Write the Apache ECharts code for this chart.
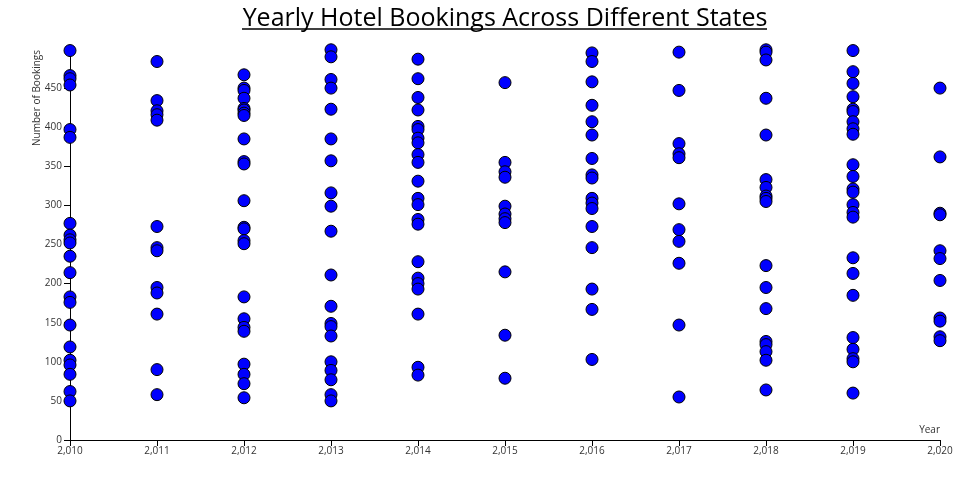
<!DOCTYPE html>
<html>
<head>
<meta charset="utf-8">
<script src="https://cdn.jsdelivr.net/npm/echarts@6/dist/echarts.min.js"></script>
<style>html,body{margin:0;padding:0;background:#fff}#c{width:960px;height:500px}</style>
</head>
<body>
<div id="c"></div>
<script>
var years = [2010, 2011, 2012, 2013, 2014, 2015, 2016, 2017, 2018, 2019, 2020];
var bookings2010 = [498, 466, 462, 454, 397, 387, 277, 262, 256, 252, 235, 214, 183, 176, 147, 119, 102, 96, 84, 62, 50];
var bookings2011 = [484, 434, 421, 416, 409, 273, 246, 242, 195, 188, 161, 90, 58];
var bookings2012 = [467, 450, 447, 437, 424, 422, 418, 415, 385, 356, 353, 306, 272, 270, 255, 251, 183, 155, 144, 139, 97, 84, 72, 54];
var bookings2013 = [499, 490, 461, 450, 423, 385, 357, 316, 299, 267, 211, 171, 149, 145, 133, 100, 89, 77, 58, 50];
var bookings2014 = [487, 462, 438, 422, 401, 397, 386, 380, 365, 355, 331, 309, 301, 282, 276, 228, 207, 200, 193, 161, 93, 83];
var bookings2015 = [457, 355, 343, 336, 299, 289, 283, 278, 215, 134, 79];
var bookings2016 = [495, 484, 458, 428, 407, 390, 360, 339, 335, 309, 303, 296, 273, 246, 193, 167, 103];
var bookings2017 = [496, 447, 379, 366, 361, 302, 269, 254, 226, 147, 55];
var bookings2018 = [499, 496, 486, 437, 390, 333, 323, 312, 309, 305, 223, 195, 168, 126, 122, 113, 102, 64];
var bookings2019 = [498, 471, 456, 439, 423, 420, 407, 398, 391, 352, 337, 321, 317, 301, 291, 285, 233, 213, 185, 131, 116, 104, 100, 60];
var bookings2020 = [450, 362, 290, 288, 242, 232, 204, 156, 152, 132, 127];
var yTicks = [0, 50, 100, 150, 200, 250, 300, 350, 400, 450];

var allYears = [bookings2010, bookings2011, bookings2012, bookings2013, bookings2014, bookings2015,
  bookings2016, bookings2017, bookings2018, bookings2019, bookings2020];
var points = [];
allYears.forEach(function (arr, i) {
  arr.forEach(function (v) { points.push([years[i], v]); });
});

var chart = echarts.init(document.getElementById('c'), null, {renderer: 'canvas'});
var font = '"Open Sans", sans-serif';
chart.setOption({
  animation: false,
  backgroundColor: '#fff',
  title: {
    text: 'Yearly Hotel Bookings Across Different States',
    left: 500, top: 1, textAlign: 'center',
    textStyle: {fontFamily: font, fontSize: 25, fontWeight: 'normal', color: '#000'}
  },
  grid: {left: 70, right: 20, top: 49, bottom: 60, containLabel: false},
  xAxis: {
    type: 'value', min: 2010, max: 2020, interval: 1,
    axisLine: {show: true, lineStyle: {color: '#000', width: 1}},
    axisTick: {show: true, inside: false, length: 6, lineStyle: {color: '#000', width: 1}},
    splitLine: {show: false},
    axisLabel: {
      fontFamily: font, fontSize: 10, color: '#333', margin: 6,
      formatter: function (v) { return String(v).replace(/\B(?=(\d{3})+(?!\d))/g, ','); }
    }
  },
  yAxis: {
    type: 'value', min: 0, max: 500, interval: 50,
    axisLine: {show: true, onZero: false, lineStyle: {color: '#000', width: 1}},
    axisTick: {show: true, inside: false, length: 6, lineStyle: {color: '#000', width: 1}, customValues: yTicks},
    splitLine: {show: false},
    axisLabel: {fontFamily: font, fontSize: 10, color: '#333', margin: 8, customValues: yTicks}
  },
  graphic: [
    {type: 'line', shape: {x1: 242, y1: 29, x2: 767, y2: 29}, style: {stroke: '#000', lineWidth: 1.5}},
    {type: 'text', x: 37, y: 50, rotation: Math.PI / 2,
      style: {text: 'Number of Bookings', fontFamily: font, fontSize: 10, fill: '#333', align: 'right', verticalAlign: 'middle'}},
    {type: 'text', x: 940, y: 430,
      style: {text: 'Year', fontFamily: font, fontSize: 10, fill: '#333', align: 'right', verticalAlign: 'middle'}}
  ],
  series: [{
    type: 'scatter',
    data: points,
    symbolSize: 12,
    itemStyle: {color: '#0000ff', borderColor: '#000', borderWidth: 1, opacity: 1}
  }]
});
</script>
</body>
</html>
